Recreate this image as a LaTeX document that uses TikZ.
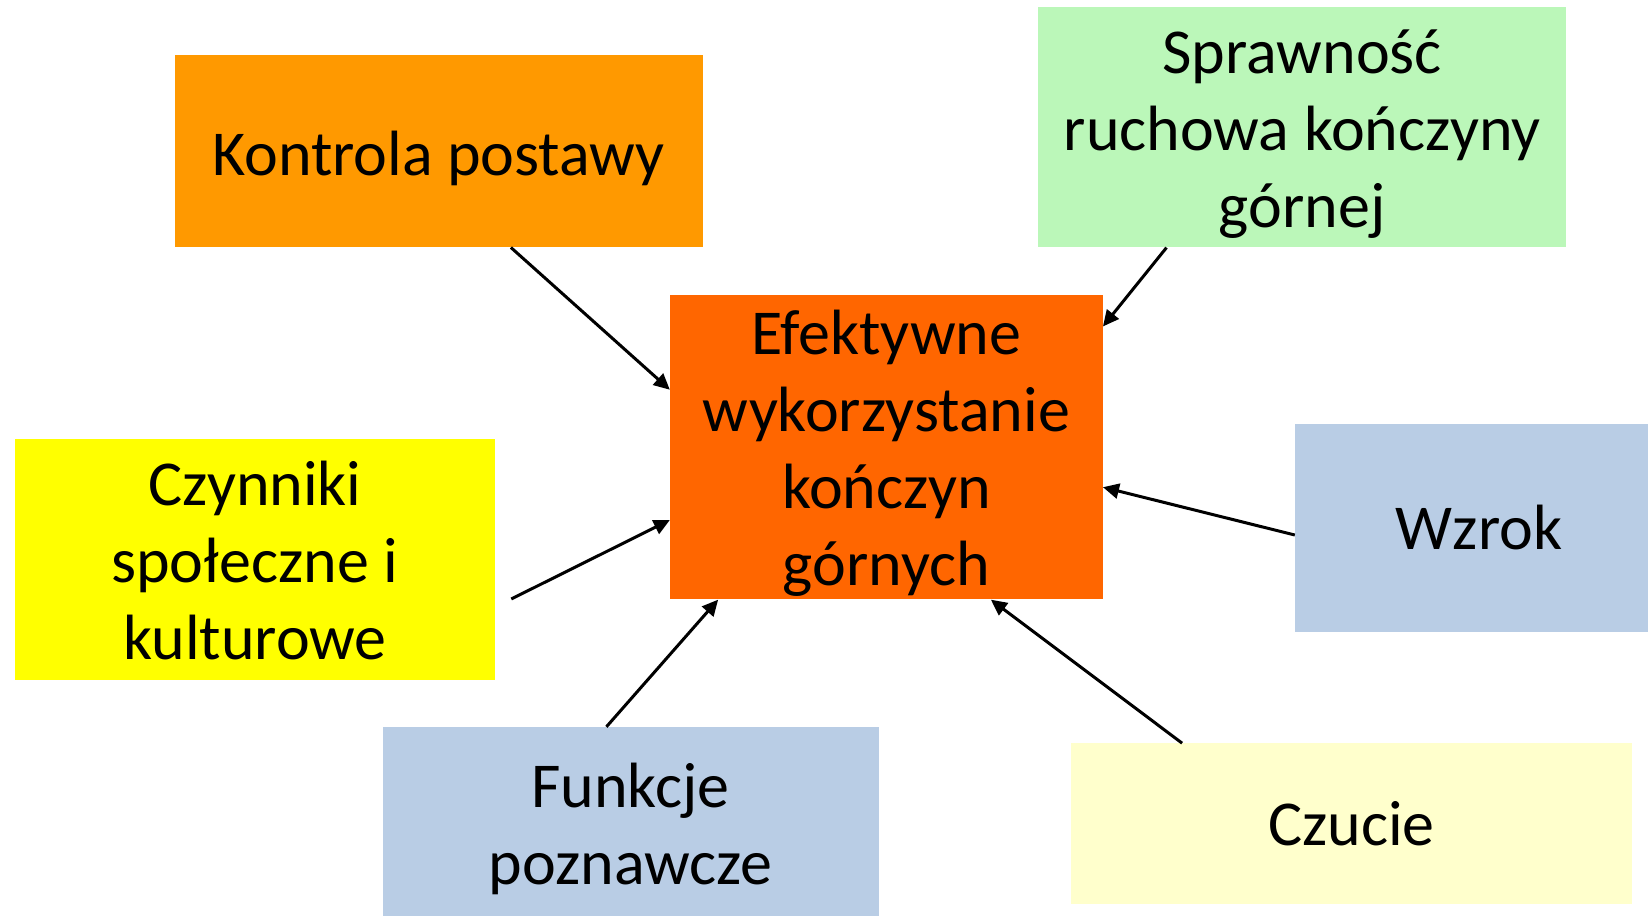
\documentclass[tikz,border=0pt]{standalone}
\usepackage{fontspec}
\setmainfont{Carlito}
\usetikzlibrary{arrows.meta}
\definecolor{cOrange}{RGB}{255,153,0}
\definecolor{cCenter}{RGB}{255,102,0}
\definecolor{cGreen}{RGB}{187,247,185}
\definecolor{cYellow}{RGB}{255,255,0}
\definecolor{cBlue}{RGB}{185,205,229}
\definecolor{cCream}{RGB}{255,255,204}
\tikzset{
  box/.style={rectangle, inner sep=0pt},
  txt/.style={inner sep=0pt, align=center, font=\fontsize{64}{77}\selectfont, text=black},
  arr/.style={line width=3pt, -{Triangle[length=16pt,width=15pt]}, black}
}
\begin{document}
\begin{tikzpicture}[x=1pt,y=-1pt]
\useasboundingbox (0,0) rectangle (1648,915);
\node[box, fill=cOrange, minimum width=528pt, minimum height=192.6pt] (kp) at (438.6,151) {};
\node[box, fill=cGreen, minimum width=527.6pt, minimum height=240pt] (sp) at (1302.2,127.4) {};
\node[box, fill=cCenter, minimum width=432.7pt, minimum height=304.5pt] (ce) at (886.4,447.2) {};
\node[box, fill=cYellow, minimum width=480.3pt, minimum height=241pt] (cz) at (254.9,559.5) {};
\node[box, fill=cBlue, minimum width=368pt, minimum height=208.2pt] (wz) at (1479,527.6) {};
\node[box, fill=cBlue, minimum width=496pt, minimum height=196pt] (fu) at (630.6,825) {};
\node[box, fill=cCream, minimum width=561pt, minimum height=160.7pt] (cu) at (1351.5,823.7) {};
\node[txt] (kpt) at ([yshift=-7.4pt]kp.center) {Kontrola postawy};
\node[txt] (spt) at ([yshift=-6.6pt]sp.center) {Sprawność\\ruchowa kończyny\\górnej};
\node[txt] (cet) at ([yshift=-5.8pt]ce.center) {Efektywne\\wykorzystanie\\kończyn\\górnych};
\node[txt] (czt) at ([yshift=-0.7pt]cz.center) {Czynniki\\społeczne i\\kulturowe};
\node[txt] (wzt) at (wz.center) {Wzrok};
\node[txt] (fut) at ([yshift=-3.7pt]fu.center) {Funkcje\\poznawcze};
\node[txt] (cut) at (cu.center) {Czucie};
\draw[arr] ([xshift=336.5pt]kp.south west) -- ([yshift=-95pt]ce.north west);
\draw[arr] ([xshift=128.3pt]sp.south west) -- ([yshift=-31.7pt]ce.north east);
\draw[arr] ([xshift=16pt,yshift=-39.5pt]cz.east) -- ([yshift=-72.8pt]ce.west);
\draw[arr] ([yshift=-7.4pt]wz.west) -- ([yshift=-40pt]ce.east);
\draw[arr] ([xshift=224pt]fu.north west) -- ([xshift=48.3pt]ce.south west);
\draw[arr] ([xshift=111.3pt]cu.north west) -- ([xshift=321pt]ce.south west);
\end{tikzpicture}
\end{document}
